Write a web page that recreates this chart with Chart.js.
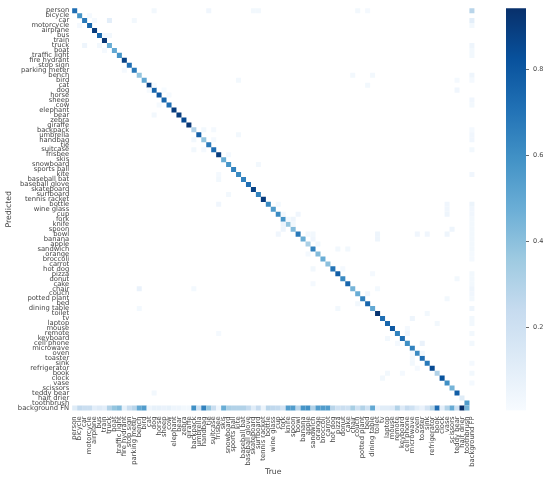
<!DOCTYPE html>
<html>
<head>
<meta charset="utf-8">
<script src="https://cdn.jsdelivr.net/npm/chart.js@4"></script>
<style>
  body { margin: 0; background: #fff; }
  #wrap { position: relative; width: 550px; height: 483px; }
  canvas { position: absolute; top: 0; }
</style>
</head>
<body>
<div id="wrap">
  <canvas id="matrix" width="550" height="483" style="left:0"></canvas>
  <canvas id="bar" width="50" height="483" style="left:500px"></canvas>
</div>
<script>
var classes = ["person","bicycle","car","motorcycle","airplane","bus","train","truck","boat","traffic light","fire hydrant","stop sign","parking meter","bench","bird","cat","dog","horse","sheep","cow","elephant","bear","zebra","giraffe","backpack","umbrella","handbag","tie","suitcase","frisbee","skis","snowboard","sports ball","kite","baseball bat","baseball glove","skateboard","surfboard","tennis racket","bottle","wine glass","cup","fork","knife","spoon","bowl","banana","apple","sandwich","orange","broccoli","carrot","hot dog","pizza","donut","cake","chair","couch","potted plant","bed","dining table","toilet","tv","laptop","mouse","remote","keyboard","cell phone","microwave","oven","toaster","sink","refrigerator","book","clock","vase","scissors","teddy bear","hair drier","toothbrush"];
var trueLabels = classes.concat(["background FP"]);
var predLabels = classes.concat(["background FN"]);

// matched fraction per class
var diagonal = [.72,.58,.68,.75,.9,.75,.92,.48,.5,.58,.88,.72,.68,.38,.5,.88,.75,.8,.75,.72,.9,.9,.85,.92,.3,.78,.38,.68,.72,.9,.48,.58,.65,.62,.65,.72,.88,.65,.9,.62,.55,.62,.58,.38,.42,.68,.48,.32,.65,.42,.48,.4,.7,.78,.62,.75,.45,.48,.65,.75,.5,.93,.72,.75,.8,.65,.72,.6,.65,.62,.72,.68,.85,.3,.82,.6,.45,.78,.12,.55];
var missed = [.12,.25,.22,.22,.1,.13,.1,.3,.38,.42,.08,.22,.28,.5,.55,.05,.08,.08,.07,.08,.05,.05,.03,.03,.6,.2,.65,.38,.22,.05,.48,.32,.3,.3,.3,.25,.11,.24,.06,.28,.26,.25,.18,.55,.55,.28,.58,.6,.3,.55,.55,.55,.28,.2,.22,.2,.33,.2,.3,.2,.5,.07,.11,.11,.13,.3,.13,.24,.2,.11,.07,.18,.3,.73,.1,.3,.49,.2,.95,.45];
var fpRows = [0,2,3,7,8,9,13,14,18,19,24,25,26,28,33,39,40,41,42,43,44,45,46,47,48,49,50,53,54,55,56,57,58,60,62,63,65,67,71,73,75];
var fpVals = [.28,.1,.03,.05,.03,.03,.05,.02,.04,.03,.02,.04,.04,.03,.04,.06,.04,.04,.03,.03,.03,.03,.03,.03,.03,.02,.02,.03,.03,.03,.05,.04,.03,.05,.03,.03,.03,.03,.02,.03,.02];
var offRows = [0,0,0,0,0,0,1,2,2,2,3,5,5,7,7,8,12,13,13,14,14,15,15,16,16,16,17,19,21,24,24,25,26,26,28,28,29,31,33,34,37,39,39,39,40,41,41,41,42,42,43,43,44,44,45,45,45,45,45,45,45,46,46,47,48,48,49,52,52,53,54,55,56,56,56,57,58,59,60,60,61,62,63,64,65,65,66,67,67,69,69,70,71,72,73,73,74,77];
var offCols = [16,27,36,37,57,59,3,4,7,12,1,6,7,2,5,6,10,56,60,33,77,59,16,15,18,77,19,17,16,26,28,33,24,28,24,26,31,37,29,29,31,29,41,75,75,45,42,75,44,43,42,44,42,76,41,47,48,69,71,75,61,48,61,49,53,55,47,48,54,60,77,48,13,24,61,59,75,57,13,53,71,68,73,67,29,67,63,70,65,70,68,68,68,69,63,66,62,16];
var offVals = [.03,.04,.03,.03,.03,.02,.02,.02,.1,.03,.02,.02,.03,.05,.03,.02,.02,.03,.03,.03,.02,.03,.01,.015,.01,.04,.015,.015,.03,.03,.02,.03,.03,.02,.03,.02,.02,.03,.02,.03,.03,.04,.025,.04,.04,.04,.02,.05,.05,.02,.05,.03,.05,.05,.04,.03,.03,.04,.04,.05,.05,.04,.05,.03,.03,.03,.02,.03,.02,.02,.03,.02,.07,.025,.025,.04,.03,.03,.025,.03,.03,.05,.03,.02,.02,.04,.03,.07,.02,.03,.02,.03,.03,.02,.03,.02,.03,.03];

var colorTicks = [.2,.4,.6,.8];
var vmin = .007, vmax = .943;
var blues = ["#f7fbff","#deebf7","#c6dbef","#9ecae1","#6baed6","#4292c6","#2171b5","#08519c","#08306b"];
var ink = "#444444";
var font = "'DejaVu Sans'";

function hex(c) {
    return [1,3,5].map(function (i) { return parseInt(c.substr(i,2),16); });
}
function cellColor(v) {
    var t = Math.min(1, Math.max(0, (v-vmin)/(vmax-vmin)))*8;
    var i = Math.min(7, Math.floor(t));
    var a = hex(blues[i]), b = hex(blues[i+1]);
    var rgb = a.map(function (x, k) { return Math.round(x+(b[k]-x)*(t-i)); });
    return "rgb("+rgb.join(",")+")";
}

var cells = [];
function addCell(r, c, v) {
    cells.push({x: trueLabels[c], y: predLabels[r], v: v});
}
diagonal.forEach(function (v, i) { addCell(i, i, v); });
missed.forEach(function (v, i) { addCell(80, i, v); });
fpRows.forEach(function (r, i) { addCell(r, 80, fpVals[i]); });
offRows.forEach(function (r, i) { addCell(r, offCols[i], offVals[i]); });

new Chart(document.getElementById("matrix"), {
    type: "scatter",
    data: {
        datasets: [{
            data: cells,
            pointStyle: "rect",
            pointRadius: 3.55,
            pointBorderWidth: 0,
            backgroundColor: cells.map(function (c) { return cellColor(c.v); })
        }]
    },
    options: {
        responsive: false,
        animation: false,
        layout: { padding: { top: 8.2, right: 75.6 } },
        plugins: { legend: { display: false }, tooltip: { enabled: false } },
        scales: {
            x: {
                type: "category",
                labels: trueLabels,
                offset: true,
                afterFit: function (s) { s.height = 72.6; },
                grid: { display: false, drawTicks: false },
                border: { display: false },
                ticks: { autoSkip: false, minRotation: 90, maxRotation: 90, padding: 6, color: ink, font: { family: font, size: 6.8 } },
                title: { display: true, text: "True", color: ink, padding: { top: 0, bottom: 6 }, font: { family: font, size: 7.8 } }
            },
            y: {
                type: "category",
                labels: predLabels,
                offset: true,
                afterFit: function (s) { s.width = 72.2; },
                grid: { display: false, drawTicks: false },
                border: { display: false },
                ticks: { autoSkip: false, padding: 3, color: ink, font: { family: font, size: 6.8 } },
                title: { display: true, text: "Predicted", color: ink, padding: { top: 4, bottom: 0 }, font: { family: font, size: 7.8 } }
            }
        }
    }
});

new Chart(document.getElementById("bar"), {
    type: "bar",
    data: {
        labels: ["scale"],
        datasets: [{
            data: [[vmin, vmax]],
            barPercentage: 1,
            categoryPercentage: 1,
            backgroundColor: function (ctx) {
                var area = ctx.chart.chartArea;
                if (!area) return blues[4];
                var g = ctx.chart.ctx.createLinearGradient(0, area.bottom, 0, area.top);
                blues.forEach(function (c, i) { g.addColorStop(i/8, c); });
                return g;
            }
        }]
    },
    options: {
        responsive: false,
        animation: false,
        layout: { padding: { left: 6, top: 8.2, bottom: 72.6 } },
        plugins: { legend: { display: false }, tooltip: { enabled: false } },
        scales: {
            x: { display: false },
            y: {
                position: "right",
                min: vmin,
                max: vmax,
                afterFit: function (s) { s.width = 24; },
                afterBuildTicks: function (s) { s.ticks = colorTicks.map(function (v) { return {value: v}; }); },
                grid: { drawOnChartArea: false, tickLength: 3, tickColor: ink, tickWidth: .8 },
                border: { display: false },
                ticks: { padding: 4, color: ink, font: { family: font, size: 6.5 }, callback: function (v) { return v.toFixed(1); } }
            }
        }
    }
});
</script>
</body>
</html>
